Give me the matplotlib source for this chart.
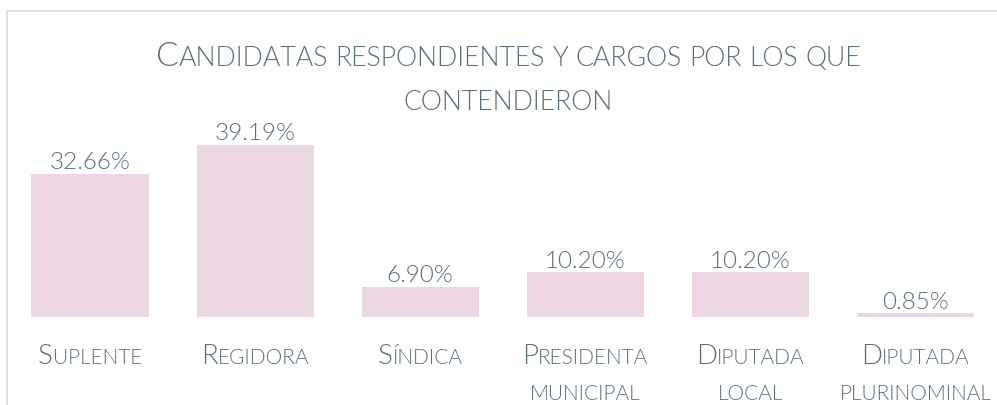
import matplotlib
matplotlib.use("Agg")
import matplotlib.pyplot as plt
from matplotlib.patches import Rectangle

# data
cargos = ["Suplente", "Regidora", "Síndica", "Presidenta\nmunicipal",
          "Diputada\nlocal", "Diputada\nplurinominal"]
porcentajes = [32.66, 39.19, 6.90, 10.20, 10.20, 0.85]
titulo = ["Candidatas respondientes y cargos por los que", "contendieron"]

TXT = "#5a6e7e"
BAR = "#ecd6e1"
FONT = "Lato"
WT = 300

fig = plt.figure(figsize=(9.97, 4.06), dpi=100)
W, H = 997, 406
renderer = fig.canvas.get_renderer()


def runs(s):
    # split string into (text, is_upper) runs for fake small caps
    out = []
    for ch in s:
        up = ch.isupper()
        if out and out[-1][1] == up:
            out[-1][0] += ch
        else:
            out.append([ch, up])
    return out


def smallcaps(cx, y, s, big, small):
    # cx, y in pixels (y from top); draws centered line at baseline y
    pieces = []
    for word in s.split(" "):
        for txt, up in runs(word):
            pieces.append((txt.upper(), big if up else small))
        pieces.append((" ", small))
    pieces = pieces[:-1]
    widths = []
    for txt, sz in pieces:
        if txt == " ":
            widths.append(sz * 100 / 72 * 0.28)
            continue
        t = fig.text(0, 0, txt, fontsize=sz, family=FONT, fontweight=WT)
        widths.append(t.get_window_extent(renderer).width)
        t.remove()
    x = cx - sum(widths) / 2
    for (txt, sz), w in zip(pieces, widths):
        if txt != " ":
            fig.text(x / W, 1 - y / H, txt, fontsize=sz, family=FONT,
                     fontweight=WT, color=TXT, va="baseline", ha="left")
        x += w


# axes placed so bar base sits at y=318px and scale ~4.39 px per %
ymax = 60
ax_h = ymax * 4.39
ax = fig.add_axes([7.5 / W, (H - 318) / H, 990.5 / W, ax_h / H])
x = range(len(cargos))
ax.bar(x, porcentajes, width=0.71, color=BAR)
ax.set_xlim(-0.5, 5.5)
ax.set_ylim(0, ymax)
ax.axis("off")

for i, v in enumerate(porcentajes):
    ax.annotate(f"{v:.2f}%", (i, v), xytext=(0, 4), textcoords="offset points",
                ha="center", va="baseline", fontsize=17.5, family=FONT,
                fontweight=WT, color=TXT)

# category labels
for i, c in enumerate(cargos):
    cx = ax.transData.transform((i, 0))[0]
    for j, line in enumerate(c.split("\n")):
        smallcaps(cx, 364 + j * 36, line, 20, 15)

# title
for j, line in enumerate(titulo):
    smallcaps(508.5, 66 + j * 44, line, 24, 19.2)

# border box (runs off right and bottom)
fig.patches.append(Rectangle((6.5 / W, -0.2), 1.2, 1.2 - 11.5 / H,
                             transform=fig.transFigure, fill=False,
                             edgecolor="#d9d9d9", linewidth=1.2))

fig.savefig("out.png", dpi=100)
